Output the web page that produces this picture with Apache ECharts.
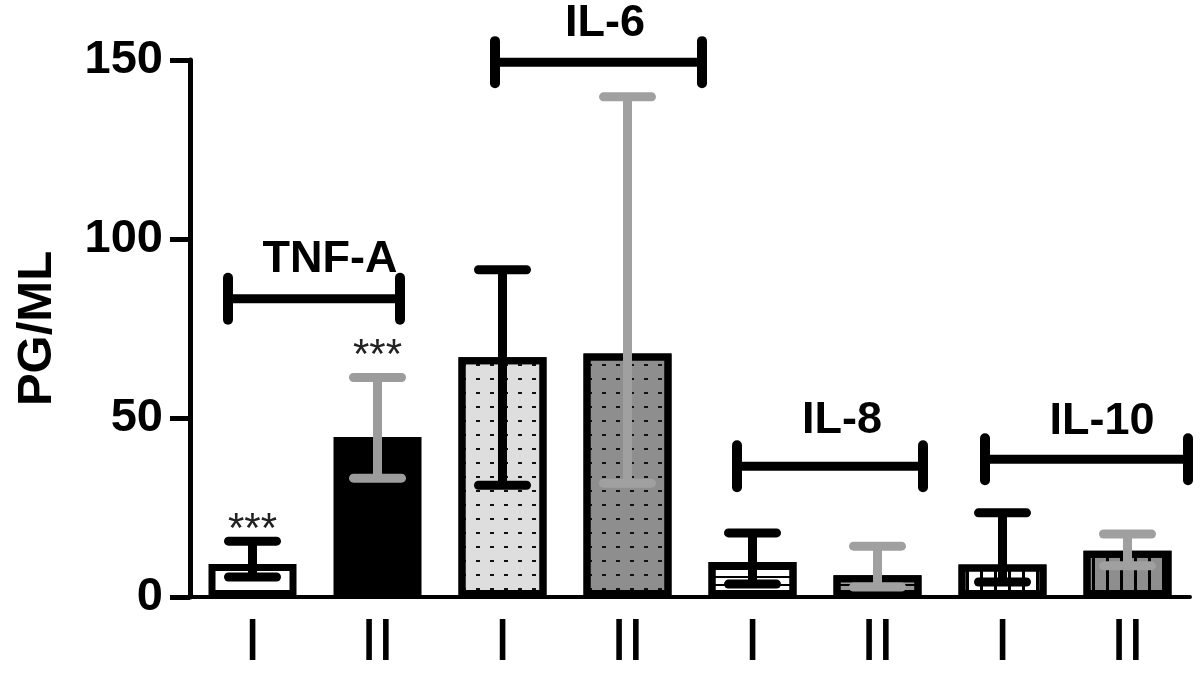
<!DOCTYPE html>
<html><head><meta charset="utf-8">
<script src="https://cdn.jsdelivr.net/npm/echarts@6/dist/echarts.min.js"></script>
<style>html,body{margin:0;padding:0;background:#fff}#c{width:1200px;height:673px}</style>
</head><body><div id="c"></div>
<script>
// ---- data ----
const categories = ['I','II','I','II','I','II','I','II'];
const groups = ['TNF-A','TNF-A','IL-6','IL-6','IL-8','IL-8','IL-10','IL-10'];
const means = [9.2, 44.7, 67.0, 68.0, 9.8, 6.1, 9.1, 12.9];
const errUpper = [15.6, 61.3, 91.4, 139.7, 17.9, 14.2, 23.5, 17.6];
const errLower = [5.6, 33.2, 31.2, 31.8, 3.6, 2.8, 4.2, 8.7];
const yTicks = [0, 50, 100, 150];
const bracketNames = ['TNF-A','IL-6','IL-8','IL-10'];
const bracketStart = [-0.196, 1.94, 3.876, 5.86];
const bracketEnd = [1.18, 3.596, 5.364, 7.484];
const bracketY = [83.3, 149.4, 36.5, 38.5];
const bracketLabelX = [0.62, 2.82, 4.716, 6.796];
const bracketLabelY = [94.2, 160.3, 49.3, 49.1];
const sigIndex = [0, 1];
const sigText = ['***', '***'];
const sigY = [18.7, 67.2];

// ---- styles ----
const FONT = '"Liberation Sans", Arial, sans-serif';
const dots = {symbol:'rect', symbolSize:1, color:'#111', dashArrayX:[4,10], dashArrayY:[2,12]};
const hlines = {symbol:'rect', symbolSize:1, color:'#000', dashArrayX:[1,0], dashArrayY:[2,6]};
const vlines = {symbol:'rect', symbolSize:1, color:'#000', dashArrayX:[3,11], dashArrayY:[1,0]};
const barStyles = [
  {color:'#ffffff'}, {color:'#000000'},
  {color:'#dedede', decal:dots}, {color:'#8e8e8e', decal:dots},
  {color:'#ffffff', decal:hlines}, {color:'#9a9a9a', decal:hlines},
  {color:'#ffffff', decal:vlines}, {color:'#8e8e8e', decal:vlines}
];
const errColors = ['#000','#9c9c9c','#000','#a0a0a0','#000','#a0a0a0','#000','#a0a0a0'];

const chart = echarts.init(document.getElementById('c'), null, {renderer:'canvas'});

const barData = means.map((v, i) => ({value: v, itemStyle: Object.assign({borderColor:'#000', borderWidth:7}, barStyles[i])}));
const errData = means.map((v, i) => [i, errUpper[i], errLower[i]]);
const bracketData = bracketNames.map((n, i) => [bracketStart[i], bracketEnd[i], bracketY[i], bracketLabelX[i], bracketLabelY[i]]);
const sigData = sigIndex.map((idx, i) => [idx, sigY[i]]);

chart.setOption({
  backgroundColor: '#fff',
  animation: false,
  grid: {left: 190, right: 10, top: 60, bottom: 75, containLabel: false},
  xAxis: {
    type: 'category', data: categories,
    axisLine: {lineStyle: {color:'#000', width:4}},
    axisTick: {alignWithLabel: true, length: 20, lineStyle: {color:'#000', width:6}},
    axisLabel: {color:'#000', fontFamily: FONT, fontSize: 60, margin: 16}
  },
  yAxis: {
    type: 'value', min: 0, max: 150, interval: 50,
    name: 'PG/ML', nameLocation: 'middle', nameGap: 128,
    nameTextStyle: {color:'#000', fontFamily: FONT, fontWeight:'bold', fontSize: 49},
    splitLine: {show:false},
    axisLine: {show:true, lineStyle: {color:'#000', width:5}},
    axisTick: {show:true, length: 20, lineStyle: {color:'#000', width:5}},
    axisLabel: {color:'#000', fontFamily: FONT, fontWeight:'bold', fontSize: 47, margin: 27,
      formatter: v => yTicks.indexOf(v) >= 0 ? String(v) : ''}
  },
  series: [
    {
      type: 'bar', data: barData, barWidth: 88, z: 2
    },
    {
      type: 'custom', data: errData, z: 5, clip: false,
      encode: {x: 0, y: [1, 2]},
      renderItem: function (params, api) {
        const i = api.value(0);
        const top = api.coord([i, api.value(1)]);
        const bot = api.coord([i, api.value(2)]);
        const c = errColors[i];
        const hw = 24;
        const st = {stroke: c, lineWidth: 9, lineCap: 'round'};
        return {type:'group', children:[
          {type:'line', shape:{x1:top[0], y1:top[1], x2:bot[0], y2:bot[1]}, style: {stroke:c, lineWidth:9}},
          {type:'line', shape:{x1:top[0]-hw, y1:top[1], x2:top[0]+hw, y2:top[1]}, style: st},
          {type:'line', shape:{x1:bot[0]-hw, y1:bot[1], x2:bot[0]+hw, y2:bot[1]}, style: st}
        ]};
      }
    },
    {
      type: 'custom', data: bracketData, z: 6, clip: false,
      encode: {y: 2},
      renderItem: function (params, api) {
        const i = params.dataIndex;
        const base = api.coord([0, api.value(2)]);
        const w = api.size([1, 0])[0];
        const x1 = base[0] + api.value(0) * w;
        const x2 = base[0] + api.value(1) * w;
        const y = base[1];
        const lp = api.coord([0, api.value(4)]);
        const lx = base[0] + api.value(3) * w;
        const capH = 21;
        return {type:'group', children:[
          {type:'line', shape:{x1:x1, y1:y, x2:x2, y2:y}, style:{stroke:'#000', lineWidth:9}},
          {type:'line', shape:{x1:x1, y1:y-capH, x2:x1, y2:y+capH}, style:{stroke:'#000', lineWidth:10, lineCap:'round'}},
          {type:'line', shape:{x1:x2, y1:y-capH, x2:x2, y2:y+capH}, style:{stroke:'#000', lineWidth:10, lineCap:'round'}},
          {type:'text', x: lx, y: lp[1], style:{text: bracketNames[i], fill:'#000',
            font: 'bold 45px ' + FONT, align:'center', verticalAlign:'middle'}}
        ]};
      }
    },
    {
      type: 'custom', data: sigData, z: 7, clip: false,
      encode: {x: 0, y: 1},
      renderItem: function (params, api) {
        const p = api.coord([api.value(0), api.value(1)]);
        return {type:'text', x: p[0], y: p[1], style:{text: sigText[params.dataIndex], fill:'#222',
          font: '42px ' + FONT, align:'center', verticalAlign:'middle'}};
      }
    }
  ]
});
</script>
</body></html>
